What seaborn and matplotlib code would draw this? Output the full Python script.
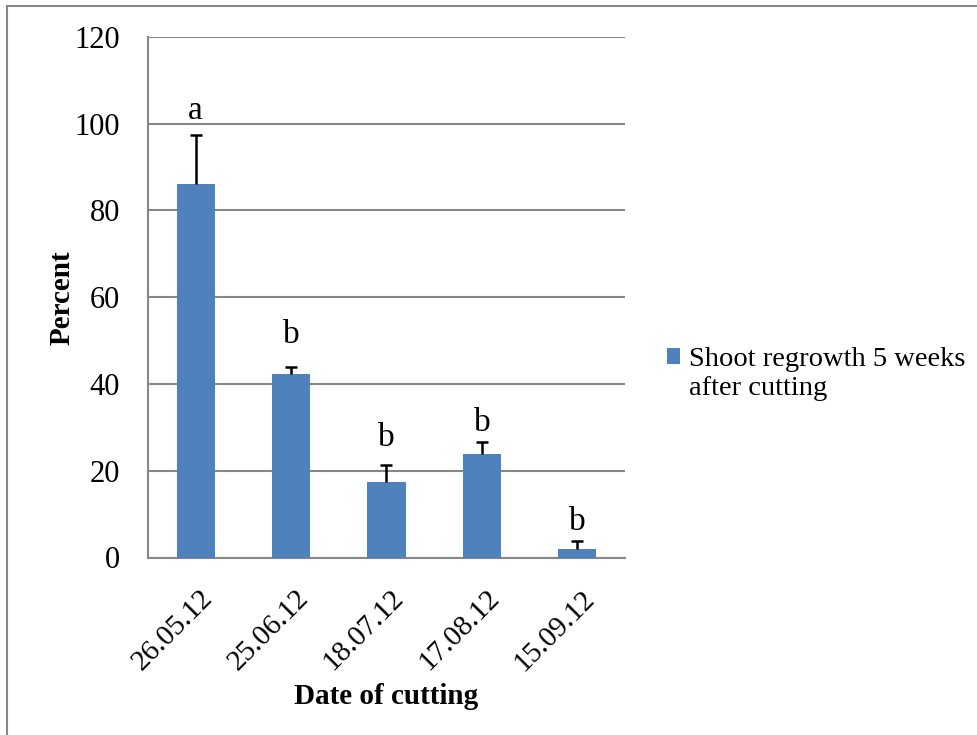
import matplotlib
matplotlib.use("Agg")
import matplotlib.pyplot as plt
import matplotlib.transforms as mtransforms
import numpy as np
import pandas as pd
import seaborn as sns
from matplotlib.patches import Rectangle

# data
dates = ["26.05.12", "25.06.12", "18.07.12", "17.08.12", "15.09.12"]
regrowth = [86.2, 42.3, 17.3, 23.9, 2.0]
err_upper = [11.1, 1.7, 4.0, 2.7, 1.9]
letters = ["a", "b", "b", "b", "b"]
letter_y = [101.2, 49.5, 25.8, 29.2, 6.3]   # baseline of the letters
series_name = "Shoot regrowth 5 weeks\nafter cutting"

df = pd.DataFrame({"date": dates, "percent": regrowth, "series": series_name})

sns.set_theme(style="white")
plt.rcParams["font.family"] = ["Liberation Serif", "DejaVu Serif"]
plt.rcParams["text.color"] = "black"

grid_col = "#878787"
bar_col = "#4F81BD"

fig = plt.figure(figsize=(9.78, 7.35), dpi=100)
ax = fig.add_axes([148 / 978, 1 - 557.5 / 735, (625 - 148) / 978, (557.5 - 37) / 735])

sns.barplot(data=df, x="date", y="percent", hue="series", palette=[bar_col],
            width=0.4, errorbar=None, saturation=1, ax=ax, zorder=3, edgecolor="none")

# upper error bars only
x = np.arange(len(dates))
eb = ax.errorbar(x, regrowth, yerr=[np.zeros(len(dates)), err_upper], fmt="none",
                 ecolor="black", elinewidth=1.8, capsize=4.3, capthick=1.8, zorder=4)
eb[1][0].set_visible(False)  # drop the lower caps

# significance letters
for xi, yl, lab in zip(x, letter_y, letters):
    ax.text(xi, yl, lab, ha="center", va="baseline", fontsize=24, color="black")

ax.set_ylim(0, 120)
ax.set_xlim(-0.5, len(dates) - 0.5)
ax.set_yticks(np.arange(0, 121, 20))
ax.yaxis.grid(True, color=grid_col, linewidth=1.5, zorder=0)
ax.set_axisbelow(True)

# ticks at category boundaries like excel
ax.set_xticks(x)
ax.set_xticks(np.arange(-0.5, len(dates)), minor=True)
ax.tick_params(axis="x", which="major", length=0, pad=20, labelcolor="black")
ax.tick_params(axis="x", which="minor", length=7, width=1.5, color=grid_col, direction="out")
ax.tick_params(axis="y", length=7, width=1.5, color=grid_col, direction="out", pad=13,
               labelcolor="black", labelsize=22)
ax.set_xticklabels(dates, rotation=45, ha="right", rotation_mode="anchor", fontsize=21)
shift = mtransforms.ScaledTranslation(0.04, 0, fig.dpi_scale_trans)
for t in ax.get_xticklabels():
    t.set_transform(t.get_transform() + shift)

for s in ["top", "right"]:
    ax.spines[s].set_visible(False)
for s in ["left", "bottom"]:
    ax.spines[s].set_color(grid_col)
    ax.spines[s].set_linewidth(1.5)

ax.set_xlabel("Date of cutting", fontsize=21, fontweight="bold", labelpad=5, color="black")
ax.set_ylabel("Percent", fontsize=21, fontweight="bold", labelpad=-1, color="black")

leg = ax.legend(loc="center left", bbox_to_anchor=(0.667, 1 - 374 / 735),
                bbox_transform=fig.transFigure, frameon=False, fontsize=20.5,
                handlelength=0.48, handleheight=0.48, handletextpad=0.3, borderpad=0)
h = leg.legend_handles[0]
h.set_y(h.get_y() + 20.5 * 0.6)

# outer chart border
fig.patches.append(Rectangle((7 / 978, -0.05), 2, 1.05 - 6 / 735, transform=fig.transFigure,
                             fill=False, edgecolor=grid_col, linewidth=1.5))

fig.savefig("out.png", dpi=100)
